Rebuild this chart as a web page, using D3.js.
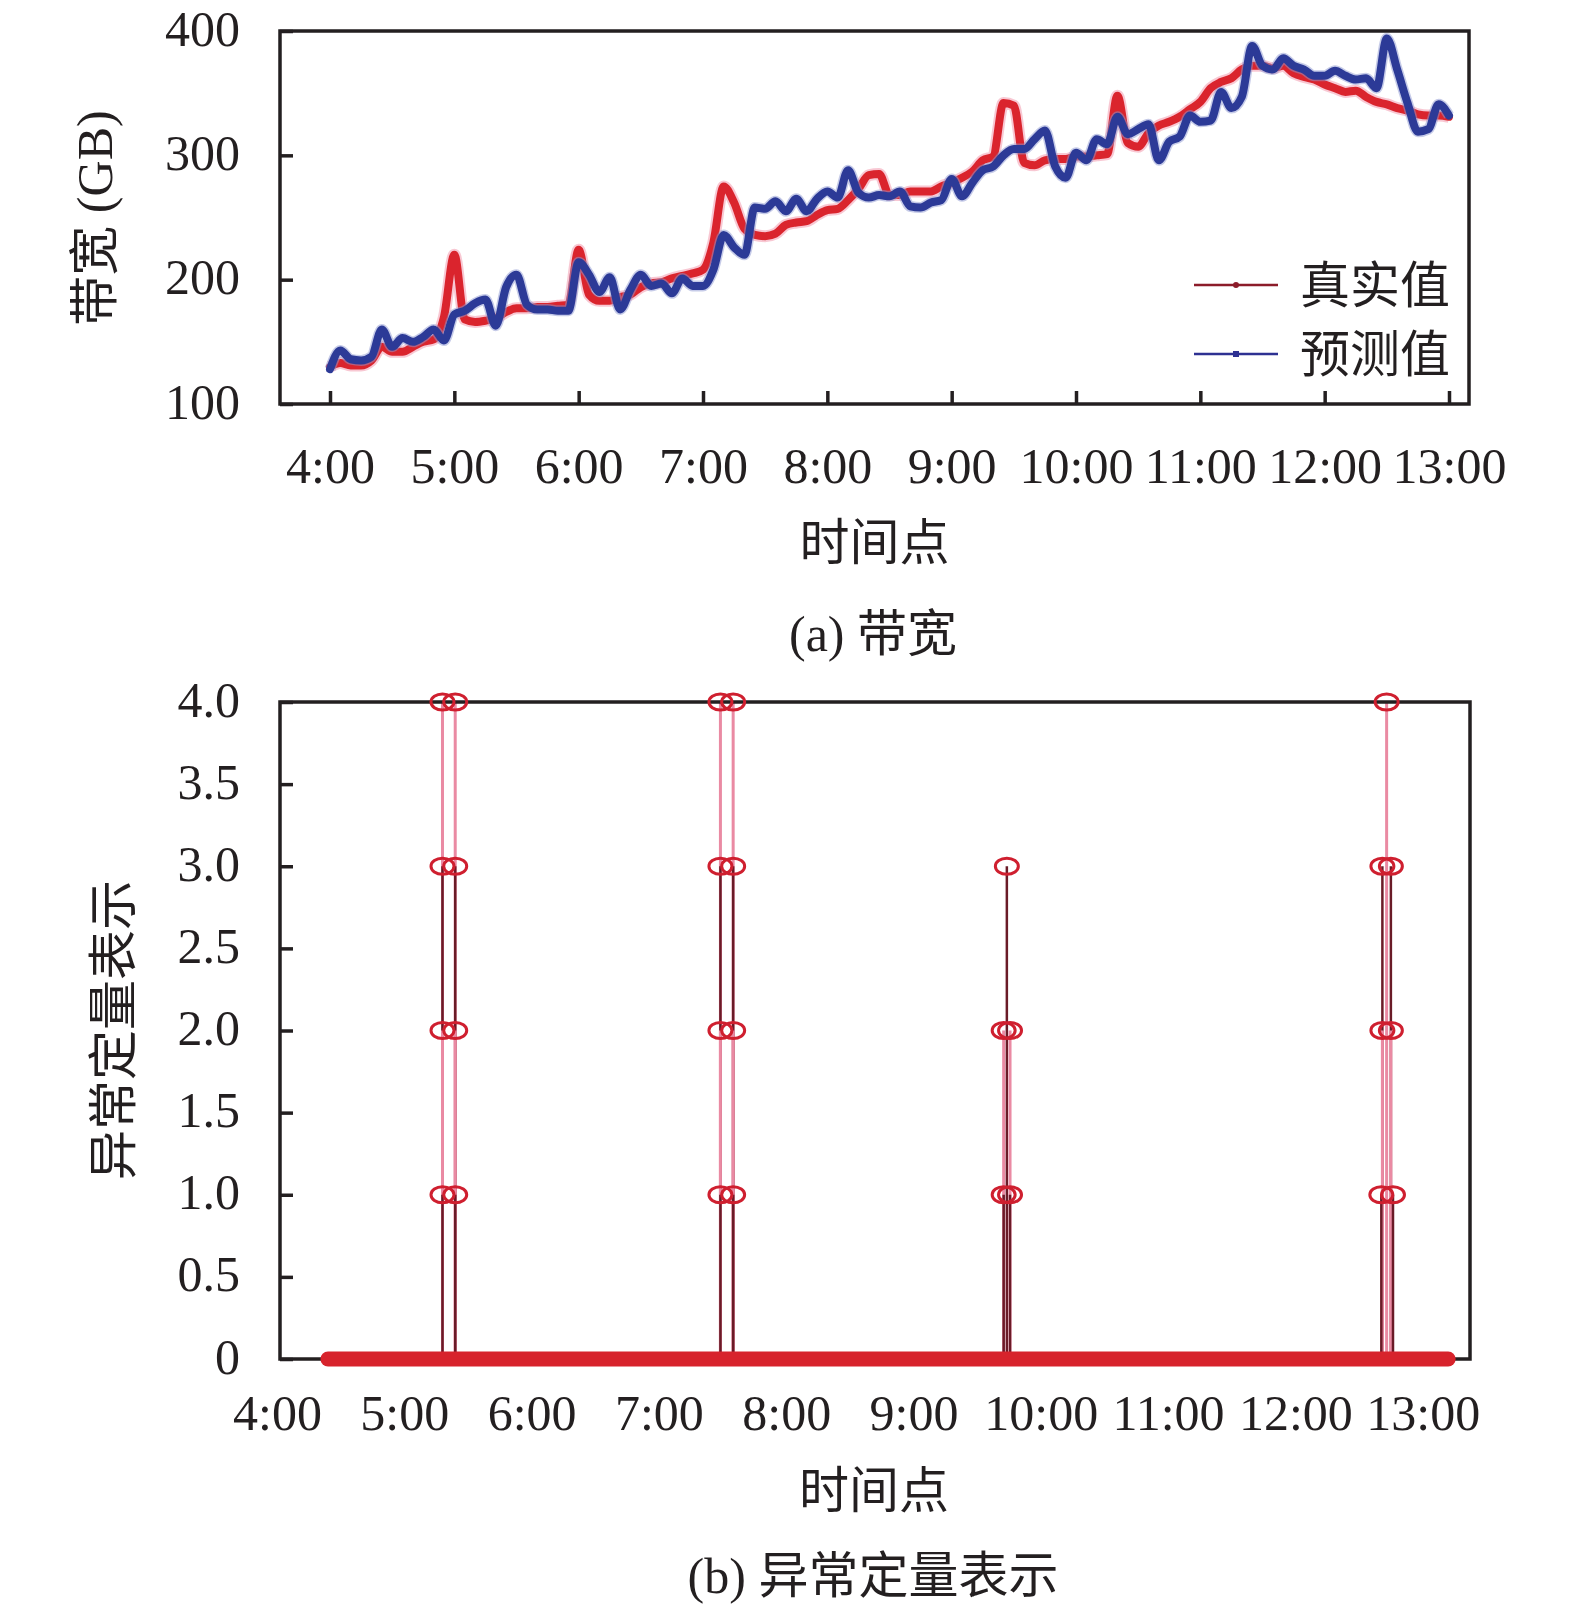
<!DOCTYPE html>
<html>
<head>
<meta charset="utf-8">
<script src="https://cdn.jsdelivr.net/npm/d3@7"></script>
<style>
    body { margin: 0; background: #fff; }
</style>
</head>
<body>
<div id="chart"></div>
<script>
// sample times, minutes after 4:00 (one row per hour)
var sampleMinutes = [
    0, 5, 10, 15, 20, 25, 30, 35, 40, 45, 50, 55,
    60, 65, 70, 75, 80, 85, 90, 95, 100, 105, 110, 115,
    120, 125, 130, 135, 140, 145, 150, 155, 160, 165, 170, 175,
    180, 185, 190, 195, 200, 205, 210, 215, 220, 225, 230, 235,
    240, 245, 250, 255, 260, 265, 270, 275, 280, 285, 290, 295,
    300, 305, 310, 315, 320, 325, 330, 335, 340, 345, 350, 355,
    360, 365, 370, 375, 380, 385, 390, 395, 400, 405, 410, 415,
    420, 425, 430, 435, 440, 445, 450, 455, 460, 465, 470, 475,
    480, 485, 490, 495, 500, 505, 510, 515, 520, 525, 530, 535,
    540
]
// 真实值 (GB)
var realValues = [
    130, 133, 131, 131, 135, 146, 142, 142, 146, 150, 152, 170,
    220, 168, 166, 167, 169, 174, 177, 177, 178, 178, 179, 180,
    224, 188, 183, 183, 186, 188, 194, 197, 198, 201, 203, 205,
    208, 230, 275, 262, 241, 236, 235, 237, 244, 246, 247, 252,
    256, 257, 264, 273, 284, 285, 268, 268, 271, 271, 271, 275,
    278, 282, 287, 296, 299, 342, 340, 294, 292, 296, 297, 297,
    299, 299, 300, 301, 348, 310, 307, 318, 324, 327, 331, 337,
    343, 354, 359, 362, 369, 372, 372, 370, 372, 366, 363, 361,
    357, 354, 351, 352, 347, 343, 341, 338, 336, 333, 332, 332,
    331
]
// 预测值 (GB)
var predValues = [
    128, 143, 136, 135, 138, 160, 146, 153, 150, 154, 160, 151,
    172, 175, 181, 184, 163, 194, 204, 180, 176, 176, 175, 175,
    214, 204, 190, 202, 176, 192, 204, 195, 197, 189, 201, 195,
    195, 208, 236, 226, 220, 258, 257, 263, 255, 265, 255, 265,
    271, 266, 288, 270, 266, 268, 267, 271, 259, 258, 262, 264,
    281, 267, 278, 288, 291, 300, 305, 305, 313, 320, 291, 282,
    302, 296, 313, 309, 331, 317, 321, 325, 296, 311, 315, 332,
    327, 328, 351, 338, 347, 388, 372, 369, 378, 372, 369, 364,
    364, 368, 364, 361, 362, 354, 394, 369, 342, 319, 321, 341,
    332
]
var seriesNames = ['真实值', '预测值']
var hourTicks = [0, 60, 120, 180, 240, 300, 360, 420, 480, 540]
var hourLabels = ['4:00', '5:00', '6:00', '7:00', '8:00', '9:00', '10:00', '11:00', '12:00', '13:00']
var bandwidthTicks = [100, 200, 300, 400]

// (b) anomaly points: minutes after 4:00 and level
var anomalyMinutes = [
    78, 84, 78, 84, 78, 84, 78, 84,
    209, 215, 209, 215, 209, 215, 209, 215,
    342.5, 345.5, 342.5, 345.5, 344,
    520.5, 526, 521, 525, 521, 525, 523
]
var anomalyLevels = [
    1, 1, 2, 2, 3, 3, 4, 4,
    1, 1, 2, 2, 3, 3, 4, 4,
    1, 1, 2, 2, 3,
    1, 1, 2, 2, 3, 3, 4
]
// normal (level 0) run
var normalMinutes = [24, 552]
var normalLevels = [0, 0]
var levelTicks = [0, 0.5, 1, 1.5, 2, 2.5, 3, 3.5, 4]

var W = 1575,
    H = 1614,
    ink = '#231f20',
    serif = "'Liberation Serif', 'Times New Roman', serif",
    mixed = "'Liberation Serif', 'Noto Sans CJK SC', serif",
    fs = 50

var svg = d3.select('#chart').append('svg').attr('width', W).attr('height', H)
svg.append('rect').attr('width', W).attr('height', H).attr('fill', '#fff')

function styleAxis(g) {
    g.select('.domain').remove()
    g.attr('font-family', serif).attr('font-size', fs)
    g.selectAll('line').attr('stroke', ink).attr('stroke-width', 3.5)
    g.selectAll('text').attr('fill', ink)
}

function label(x, y, txt, rotate) {
    var t = svg.append('text')
        .attr('text-anchor', 'middle')
        .attr('dy', '0.35em')
        .attr('font-family', mixed)
        .attr('font-size', fs)
        .attr('fill', ink)
        .text(txt)
    if (rotate) {
        t.attr('transform', 'translate(' + x + ',' + y + ') rotate(-90)')
    } else {
        t.attr('x', x).attr('y', y)
    }
}

// ---------- (a) 带宽 ----------
var boxA = { left: 280, right: 1469, top: 31, bottom: 404 }
var xA = d3.scaleLinear().domain([0, 540]).range([330, 1449])
var yA = d3.scaleLinear().domain([100, 400]).range([boxA.bottom, boxA.top])

var gyA = svg.append('g')
    .attr('transform', 'translate(' + boxA.left + ',0)')
    .call(d3.axisLeft(yA).tickValues(bandwidthTicks).tickSize(-13).tickPadding(40))
styleAxis(gyA)
gyA.selectAll('text').attr('dy', '0.28em')

var gxA = svg.append('g')
    .attr('transform', 'translate(0,' + boxA.bottom + ')')
    .call(d3.axisBottom(xA).tickValues(hourTicks).tickSize(-13)
        .tickFormat(function (d, i) { return hourLabels[i] }))
styleAxis(gxA)
gxA.selectAll('text').attr('y', 61).attr('dy', '0.35em')

var lineA = function (vals) {
    return d3.line()
        .x(function (d, i) { return xA(sampleMinutes[i]) })
        .y(function (d) { return yA(d) })
        .curve(d3.curveMonotoneX)(vals)
}

// halo + main stroke, red first, blue on top
svg.append('path').attr('d', lineA(realValues)).attr('fill', 'none')
    .attr('stroke', '#f3a3b6').attr('stroke-width', 12).attr('stroke-linejoin', 'round').attr('opacity', 0.6)
svg.append('path').attr('d', lineA(realValues)).attr('fill', 'none')
    .attr('stroke', '#da242d').attr('stroke-width', 8).attr('stroke-linejoin', 'round').attr('stroke-linecap', 'round')
svg.append('path').attr('d', lineA(predValues)).attr('fill', 'none')
    .attr('stroke', '#8e98d2').attr('stroke-width', 11).attr('stroke-linejoin', 'round').attr('opacity', 0.5)
svg.append('path').attr('d', lineA(predValues)).attr('fill', 'none')
    .attr('stroke', '#2c3a97').attr('stroke-width', 8).attr('stroke-linejoin', 'round').attr('stroke-linecap', 'round')

svg.append('rect')
    .attr('x', boxA.left).attr('y', boxA.top)
    .attr('width', boxA.right - boxA.left).attr('height', boxA.bottom - boxA.top)
    .attr('fill', 'none').attr('stroke', ink).attr('stroke-width', 3.5)

// legend
var legendColors = ['#8c1c2a', '#2e3192']
var legend = svg.selectAll('g.legend')
    .data(seriesNames)
    .enter()
    .append('g')
    .attr('class', 'legend')
    .attr('transform', function (d, i) { return 'translate(1194,' + (285 + i * 69) + ')' })
legend.append('line')
    .attr('x1', 0).attr('x2', 84)
    .attr('stroke', function (d, i) { return legendColors[i] })
    .attr('stroke-width', 2.5)
legend.each(function (d, i) {
    var g = d3.select(this)
    if (i === 0) {
        g.append('circle').attr('cx', 42).attr('r', 3).attr('fill', legendColors[i])
    } else {
        g.append('rect').attr('x', 39).attr('y', -3).attr('width', 6).attr('height', 6).attr('fill', legendColors[i])
    }
})
legend.append('text')
    .attr('x', 106).attr('dy', '0.35em')
    .attr('font-family', mixed).attr('font-size', fs).attr('fill', ink)
    .text(function (d) { return d })

label(874.5, 542, '时间点')
label(873, 633, '(a) 带宽')
label(94, 218, '带宽 (GB)', true)

// ---------- (b) 异常定量表示 ----------
var boxB = { left: 280, right: 1470, top: 702, bottom: 1359 }
var xB = d3.scaleLinear().domain([0, 540]).range([277, 1422.7])
var yB = d3.scaleLinear().domain([0, 4]).range([boxB.bottom, boxB.top])

var gyB = svg.append('g')
    .attr('transform', 'translate(' + boxB.left + ',0)')
    .call(d3.axisLeft(yB).tickValues(levelTicks).tickSize(-13).tickPadding(40)
        .tickFormat(function (d) { return d === 0 ? '0' : d.toFixed(1) }))
styleAxis(gyB)
gyB.selectAll('text').attr('dy', '0.28em')

var gxB = svg.append('g')
    .attr('transform', 'translate(0,' + boxB.bottom + ')')
    .call(d3.axisBottom(xB).tickValues(hourTicks).tickSize(0)
        .tickFormat(function (d, i) { return hourLabels[i] }))
styleAxis(gxB)
gxB.selectAll('line').remove()
gxB.selectAll('text').attr('y', 53).attr('dy', '0.35em')

var points = anomalyMinutes.map(function (m, i) {
    return { m: m, v: anomalyLevels[i] }
})

// stems, tallest first so the shorter ones show on top
var stems = points.slice().sort(function (a, b) { return b.v - a.v })
svg.selectAll('line.stem')
    .data(stems)
    .enter()
    .append('line')
    .attr('class', 'stem')
    .attr('x1', function (d) { return xB(d.m) })
    .attr('x2', function (d) { return xB(d.m) })
    .attr('y1', yB(0))
    .attr('y2', function (d) { return yB(d.v) })
    .attr('stroke', function (d) { return d.v % 2 === 1 ? '#6a1b27' : '#ea8aa3' })
    .attr('stroke-width', function (d) { return d.v % 2 === 1 ? 2.5 : 3 })

svg.append('rect')
    .attr('x', boxB.left).attr('y', boxB.top)
    .attr('width', boxB.right - boxB.left).attr('height', boxB.bottom - boxB.top)
    .attr('fill', 'none').attr('stroke', ink).attr('stroke-width', 3.5)

// normal run drawn as a thick band at level 0
svg.append('path')
    .attr('d', d3.line()
        .x(function (d, i) { return xB(normalMinutes[i]) })
        .y(function (d) { return yB(d) })(normalLevels))
    .attr('fill', 'none')
    .attr('stroke', '#d7232c')
    .attr('stroke-width', 15)
    .attr('stroke-linecap', 'round')

svg.selectAll('ellipse.mark')
    .data(points)
    .enter()
    .append('ellipse')
    .attr('class', 'mark')
    .attr('cx', function (d) { return xB(d.m) })
    .attr('cy', function (d) { return yB(d.v) })
    .attr('rx', 11.5)
    .attr('ry', 8)
    .attr('fill', 'none')
    .attr('stroke', '#cf1f2f')
    .attr('stroke-width', 3)

label(874, 1490, '时间点')
label(873, 1575, '(b) 异常定量表示')
label(113, 1030, '异常定量表示', true)
</script>
</body>
</html>
